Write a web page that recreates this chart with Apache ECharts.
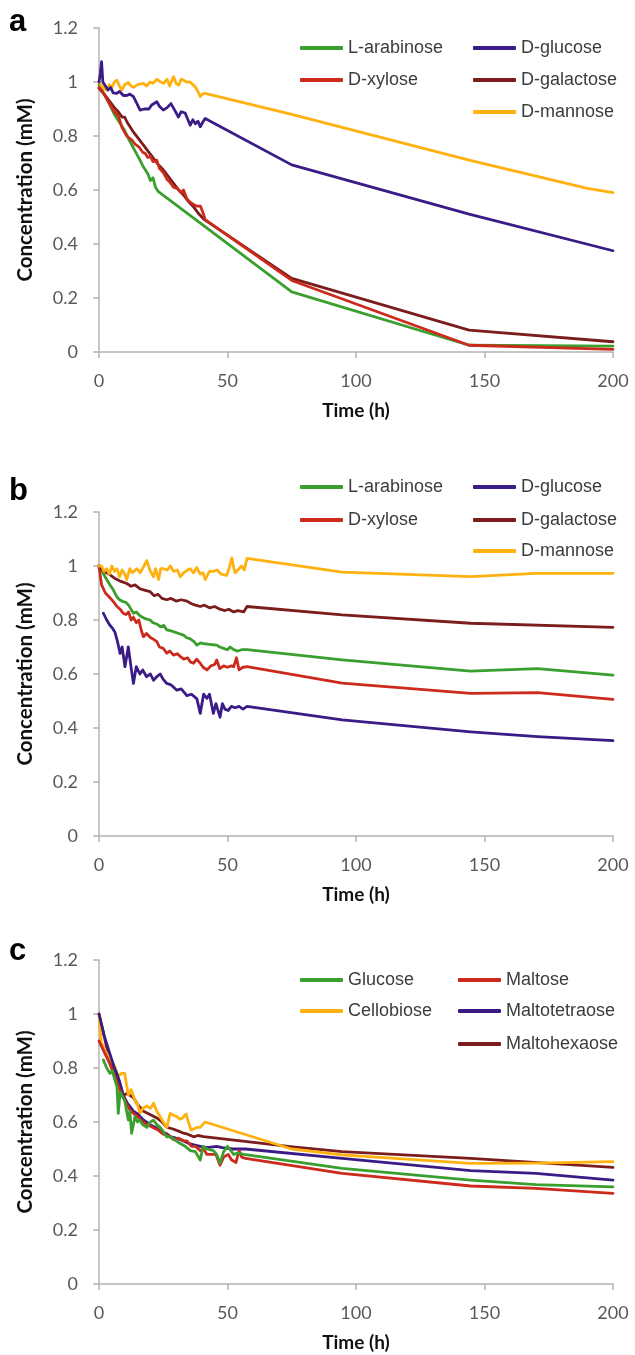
<!DOCTYPE html>
<html>
<head>
<meta charset="utf-8">
<script src="https://cdn.jsdelivr.net/npm/echarts@6/dist/echarts.min.js"></script>
<style>
html,body{margin:0;padding:0;background:#fff;}
#chart{width:635px;height:1355px;}
</style>
</head>
<body>
<div id="chart"></div>
<script>
// ---- Data ----
const xTicks = [0, 50, 100, 150, 200];
const yTicks = [0, 0.2, 0.4, 0.6, 0.8, 1, 1.2];

// Panel a
const aArabinose = [[0,0.99],[2,0.955],[4,0.92],[6,0.88],[8,0.85],[10,0.82],[12,0.78],[14,0.745],[16,0.71],[17,0.69],[18,0.675],[19,0.66],[20,0.635],[21,0.645],[22,0.61],[23,0.595],[75,0.223],[144,0.025],[200,0.022]];
const aXylose = [[0,0.98],[2,0.955],[4,0.92],[6,0.89],[7.5,0.875],[9,0.83],[10.8,0.80],[12.8,0.785],[14,0.77],[15.5,0.76],[17,0.74],[18,0.735],[19,0.72],[20,0.725],[21,0.705],[22.5,0.71],[23.5,0.68],[25,0.665],[26.4,0.64],[27.5,0.63],[29,0.61],[30.5,0.605],[32,0.59],[32.9,0.60],[34.2,0.567],[35.5,0.555],[37,0.545],[38.1,0.54],[39.5,0.54],[40.5,0.515],[41.3,0.49],[75,0.265],[144,0.025],[200,0.01]];
const aGlucose = [[0,1.0],[0.5,1.03],[1,1.075],[1.5,1.0],[2.5,0.985],[3.5,0.97],[4.5,0.98],[5.5,0.96],[6.9,0.958],[8,0.965],[9.5,0.95],[10.8,0.95],[12,0.955],[13.4,0.946],[14.5,0.925],[16,0.896],[17.5,0.9],[19.4,0.90],[20.5,0.915],[22.5,0.927],[23.5,0.91],[25,0.896],[26.5,0.905],[28,0.92],[29.5,0.895],[30.9,0.87],[32,0.89],[33.5,0.885],[35.5,0.84],[36.5,0.86],[37.5,0.845],[38.5,0.855],[39.4,0.834],[40.3,0.85],[41.3,0.865],[75,0.693],[144,0.511],[200,0.375]];
const aGalactose = [[0,0.977],[2,0.955],[4,0.93],[6,0.905],[7.5,0.89],[9,0.87],[10,0.87],[11,0.85],[13,0.82],[15,0.795],[17,0.77],[19,0.745],[21,0.72],[23,0.695],[25,0.675],[27,0.65],[29,0.625],[31,0.60],[33,0.58],[35,0.555],[37,0.535],[39,0.51],[41,0.49],[75,0.273],[144,0.081],[200,0.038]];
const aMannose = [[0,1.0],[1,0.985],[2,0.975],[3,0.97],[4,0.99],[5,0.98],[6,1.0],[6.9,1.007],[8,0.985],[8.8,0.97],[10,0.99],[11.4,0.998],[12.5,0.985],[13.4,0.98],[15,0.99],[17.3,0.995],[18.5,0.985],[19.9,1.0],[21,0.995],[22.5,1.01],[24,1.0],[25.1,0.995],[26.5,1.01],[27.5,0.985],[29,1.02],[30,0.995],[31,0.988],[32,1.01],[32.9,1.007],[34,1.0],[35.5,1.0],[36.5,0.99],[37.4,0.983],[38.5,0.965],[39.4,0.946],[40.3,0.955],[41.3,0.958],[75,0.88],[144,0.711],[190,0.606],[200,0.59]];

// Panel b
const bArabinose = [[0,1.0],[1.5,0.975],[3,0.95],[4.3,0.93],[5.6,0.911],[7,0.885],[8,0.875],[9.4,0.868],[10.5,0.865],[11.5,0.855],[13.4,0.825],[14.5,0.83],[16,0.815],[18,0.805],[19.9,0.80],[21,0.79],[22.5,0.785],[24,0.775],[25.2,0.78],[26.4,0.763],[28,0.76],[29.5,0.755],[31,0.75],[32.9,0.744],[34,0.735],[35.5,0.73],[37,0.72],[38.1,0.707],[39.5,0.715],[41,0.712],[43,0.71],[45.8,0.707],[47,0.70],[48.5,0.695],[50,0.69],[51,0.70],[52.4,0.69],[54,0.685],[55.5,0.69],[57.6,0.69],[94.6,0.652],[144.6,0.611],[170.6,0.62],[200,0.596]];
const bXylose = [[0,1.0],[1,0.93],[2.5,0.9],[4,0.885],[5.6,0.868],[7,0.85],[8.2,0.84],[9.4,0.825],[10.5,0.82],[11.5,0.83],[12.5,0.8],[13.4,0.81],[14.5,0.79],[15.5,0.80],[16.5,0.76],[17.3,0.738],[18.5,0.75],[20,0.735],[21,0.73],[22.5,0.72],[23.5,0.70],[25,0.695],[26.4,0.677],[27.5,0.685],[29,0.67],[30.5,0.675],[31.6,0.665],[33,0.655],[34.5,0.66],[35.5,0.645],[36.8,0.64],[38,0.655],[39.4,0.64],[40.5,0.625],[42,0.615],[43.5,0.63],[45,0.635],[45.8,0.652],[47,0.62],[48.5,0.63],[50,0.625],[51.5,0.63],[52.4,0.627],[53.5,0.66],[54.5,0.615],[56,0.625],[57.6,0.627],[94.6,0.566],[144.6,0.528],[170.6,0.531],[200,0.506]];
const bGlucose = [[1.7,0.825],[3,0.80],[4.3,0.78],[5.2,0.77],[6.2,0.755],[7.2,0.72],[8.2,0.676],[9,0.70],[10.1,0.627],[11.4,0.70],[12.4,0.63],[13.4,0.565],[14.5,0.627],[15.9,0.60],[17,0.615],[18.5,0.59],[20,0.60],[21.2,0.577],[22.5,0.59],[23.8,0.60],[25,0.58],[26.4,0.565],[28,0.56],[30.3,0.54],[32,0.545],[34.2,0.52],[36,0.525],[38.1,0.508],[39.4,0.454],[40.7,0.525],[42,0.51],[43,0.525],[44.5,0.454],[45.5,0.49],[47.1,0.44],[48,0.49],[49,0.47],[50.3,0.465],[51.5,0.48],[53,0.475],[54.5,0.48],[56,0.47],[57.6,0.48],[94.6,0.43],[144.6,0.386],[170.6,0.368],[200,0.353]];
const bGalactose = [[0,1.0],[2,0.98],[4.3,0.967],[6,0.955],[8,0.945],[10.8,0.935],[12.5,0.925],[14,0.93],[16,0.915],[18,0.91],[19.9,0.905],[21.5,0.89],[23,0.895],[24.5,0.88],[26.4,0.875],[28,0.88],[30,0.87],[32,0.875],[34.2,0.87],[36,0.86],[37.5,0.855],[39.4,0.85],[41,0.855],[43,0.845],[45,0.85],[47,0.84],[49,0.835],[50.5,0.84],[52.4,0.83],[54,0.835],[56.3,0.83],[57.6,0.85],[94.6,0.819],[144.6,0.788],[200,0.773]];
const bMannose = [[0,1.0],[1,1.0],[2,0.98],[3,0.99],[4,0.97],[5,1.0],[6,0.98],[7,0.99],[8,0.96],[9,0.985],[10,0.97],[10.8,0.95],[12,0.99],[13,0.975],[14.7,0.99],[16,0.975],[17.5,1.0],[18.6,1.02],[19.8,0.985],[21.2,0.96],[22,0.99],[23.2,0.95],[24,0.99],[25.2,0.99],[26.5,0.985],[27.8,1.0],[29,0.98],[30.5,0.985],[31.6,0.96],[33,0.975],[34.5,0.985],[35.5,0.99],[36.8,0.975],[38,0.995],[39.4,0.97],[40.5,0.975],[41.3,0.95],[43,0.98],[44.5,0.98],[46,0.985],[47.5,0.97],[49.7,0.965],[50.7,0.995],[51.7,1.03],[52.5,0.99],[53,0.975],[54.5,0.99],[55.5,1.0],[56.5,0.985],[57.6,1.028],[94.6,0.977],[144.6,0.961],[170,0.973],[200,0.973]];

// Panel c
const cGlucose = [[1.7,0.83],[3,0.80],[4.3,0.78],[5.2,0.79],[6.2,0.755],[7,0.73],[7.5,0.632],[8.2,0.71],[8.8,0.70],[10,0.68],[11.4,0.607],[12,0.64],[12.7,0.558],[14,0.62],[15,0.60],[15.9,0.607],[17,0.59],[18.6,0.58],[20,0.60],[21.2,0.607],[22.5,0.59],[23.8,0.58],[25,0.565],[26.4,0.545],[28,0.545],[30,0.53],[31.6,0.52],[33.5,0.51],[35.5,0.494],[37.5,0.49],[39.4,0.459],[40.5,0.51],[42,0.50],[44.5,0.494],[45.8,0.48],[47.1,0.447],[48.5,0.49],[50,0.51],[52.4,0.48],[54,0.485],[56.3,0.48],[94.6,0.428],[144.6,0.385],[170,0.368],[200,0.36]];
const cMaltose = [[0,0.9],[2,0.86],[4,0.82],[6,0.77],[8,0.72],[10,0.68],[12,0.645],[13.4,0.632],[15,0.62],[17,0.60],[19,0.59],[21,0.58],[23,0.57],[25,0.555],[27,0.55],[29,0.535],[31,0.54],[33,0.53],[34.2,0.53],[36,0.51],[37.5,0.51],[39.4,0.494],[40.7,0.50],[42,0.48],[44,0.48],[45.5,0.48],[47.1,0.44],[48.5,0.47],[50.3,0.48],[51.5,0.46],[53.3,0.45],[54.5,0.494],[55.5,0.47],[57,0.465],[94.6,0.41],[144.6,0.363],[170,0.354],[200,0.336]];
const cCellobiose = [[0,1.0],[0.8,0.90],[2,0.87],[2.9,0.855],[4.5,0.83],[6.2,0.805],[7.5,0.77],[8.8,0.78],[10,0.78],[11.4,0.70],[12.5,0.72],[14,0.68],[15,0.665],[15.9,0.632],[17,0.65],[18.6,0.66],[20,0.65],[21.2,0.67],[22.5,0.64],[23.8,0.62],[25,0.60],[26.4,0.58],[27.7,0.632],[29,0.625],[30.3,0.62],[31.5,0.61],[32.5,0.615],[33.9,0.63],[34.8,0.6],[35.8,0.57],[37,0.575],[38,0.58],[39.4,0.58],[41.3,0.60],[75,0.50],[94.6,0.478],[144.6,0.447],[170,0.448],[200,0.453]];
const cMaltotetraose = [[0,1.0],[2,0.92],[4,0.86],[6,0.80],[6.9,0.78],[8,0.75],[9.4,0.70],[11,0.67],[13.4,0.64],[15,0.63],[17,0.61],[19.9,0.59],[22,0.58],[24,0.565],[26.4,0.556],[28,0.545],[30,0.54],[32.9,0.53],[35,0.52],[37,0.515],[39.4,0.51],[42,0.505],[45.8,0.51],[48,0.505],[52,0.50],[57,0.50],[94.6,0.465],[144.6,0.42],[170,0.41],[200,0.385]];
const cMaltohexaose = [[0,1.0],[1.5,0.94],[2.9,0.88],[4.5,0.83],[6.2,0.79],[8,0.745],[9.4,0.70],[11,0.705],[13.4,0.69],[15,0.665],[17.3,0.64],[19.5,0.63],[22.5,0.615],[24.5,0.60],[26.4,0.58],[28.5,0.575],[30.5,0.568],[32.5,0.56],[34.5,0.555],[36.8,0.545],[38.5,0.55],[40.7,0.546],[74.5,0.509],[94.6,0.49],[144.6,0.465],[200,0.432]];

const panelLetters = ['a', 'b', 'c'];
const xTitle = 'Time (h)';
const yTitle = 'Concentration (mM)';

// ---- Styles ----
const C = {
  green: '#3a9f2e',
  red: '#cc2a1c',
  purple: '#3b1b86',
  brown: '#7c1d1d',
  yellow: '#ffb10f'
};

const panels = [
  { top: 28, series: [
      ['L-arabinose', aArabinose, C.green],
      ['D-galactose', aGalactose, C.brown],
      ['D-xylose', aXylose, C.red],
      ['D-mannose', aMannose, C.yellow],
      ['D-glucose', aGlucose, C.purple]
    ],
    legend: [['L-arabinose',300,49],['D-xylose',300,81],['D-glucose',473,49],['D-galactose',473,81],['D-mannose',473,113]]
  },
  { top: 512, series: [
      ['L-arabinose', bArabinose, C.green],
      ['D-xylose', bXylose, C.red],
      ['D-glucose', bGlucose, C.purple],
      ['D-galactose', bGalactose, C.brown],
      ['D-mannose', bMannose, C.yellow]
    ],
    legend: [['L-arabinose',300,488],['D-xylose',300,521],['D-glucose',473,488],['D-galactose',473,521],['D-mannose',473,552]]
  },
  { top: 960, series: [
      ['Maltohexaose', cMaltohexaose, C.brown],
      ['Cellobiose', cCellobiose, C.yellow],
      ['Maltotetraose', cMaltotetraose, C.purple],
      ['Maltose', cMaltose, C.red],
      ['Glucose', cGlucose, C.green]
    ],
    legend: [['Glucose',300,981],['Cellobiose',300,1012],['Maltose',458,981],['Maltotetraose',458,1012],['Maltohexaose',458,1045]]
  }
];

const grid = [], xAxis = [], yAxis = [], series = [], legend = [], graphic = [];
const tickFont = { fontFamily: 'Lato', fontSize: 18, color: '#595959' };
const axisLineStyle = { color: '#b4b4b4', width: 1.5 };

panels.forEach((p, i) => {
  grid.push({ left: 99, top: p.top, width: 514, height: 324 });
  xAxis.push({
    type: 'value', gridIndex: i, min: xTicks[0], max: xTicks[xTicks.length - 1], interval: xTicks[1] - xTicks[0],
    splitLine: { show: false },
    axisLine: { show: true, lineStyle: axisLineStyle },
    axisTick: { show: true, length: 6, lineStyle: axisLineStyle },
    axisLabel: Object.assign({ margin: 20 }, tickFont),
    name: xTitle, nameLocation: 'middle', nameGap: 49,
    nameTextStyle: { fontFamily: 'Lato', fontWeight: 'bold', fontSize: 19, color: '#111' }
  });
  yAxis.push({
    type: 'value', gridIndex: i, min: yTicks[0], max: yTicks[yTicks.length - 1], interval: yTicks[1] - yTicks[0],
    splitLine: { show: false },
    axisLine: { show: true, lineStyle: axisLineStyle },
    axisTick: { show: true, length: 6, lineStyle: axisLineStyle },
    axisLabel: Object.assign({ margin: 21 }, tickFont),
    name: yTitle, nameLocation: 'middle', nameGap: 63, nameRotate: 90,
    nameTextStyle: { fontFamily: 'Lato', fontWeight: 'bold', fontSize: 20.5, color: '#111' }
  });
  p.series.forEach(s => {
    series.push({
      type: 'line', name: s[0], xAxisIndex: i, yAxisIndex: i, data: s[1],
      showSymbol: false, symbol: 'none', color: s[2],
      lineStyle: { width: 2.8, color: s[2], cap: 'round', join: 'round' },
      emphasis: { disabled: true }, silent: true
    });
  });
  p.legend.forEach(l => {
    legend.push({
      data: [l[0]], left: l[1], top: l[2] - 10, selectedMode: false,
      icon: 'roundRect', itemWidth: 43, itemHeight: 4, padding: 0,
      textStyle: { fontFamily: 'Liberation Sans', fontSize: 18, color: '#3c3c3c', padding: [0, 0, 0, 0] }
    });
  });
  const baselines = [33, 502, 962];
  graphic.push({
    type: 'text', left: 9, top: baselines[i] - 26,
    style: { text: panelLetters[i], font: 'bold 31px "Liberation Sans"', fill: '#000' }
  });
});

const chart = echarts.init(document.getElementById('chart'), null, { renderer: 'canvas' });
chart.setOption({
  animation: false,
  backgroundColor: '#ffffff',
  grid, xAxis, yAxis, series, legend, graphic
});
</script>
</body>
</html>
